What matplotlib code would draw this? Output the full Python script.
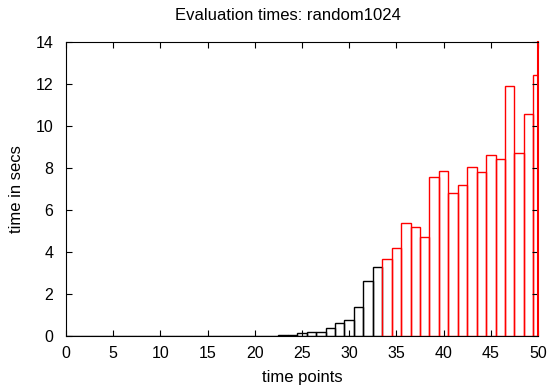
import numpy as np
import matplotlib.pyplot as plt

plt.rcParams['font.family'] = ['Liberation Sans', 'DejaVu Sans']

# time points and evaluation times (secs)
black_points = list(range(0, 34))
black_times = [0.0] * 22 + [0.02, 0.03, 0.06, 0.12, 0.20, 0.21, 0.40, 0.62,
                            0.75, 1.38, 2.60, 3.27]
red_points = list(range(34, 51))
red_times = [3.67, 4.17, 5.40, 5.21, 4.70, 7.56, 7.87, 6.79, 7.21, 8.03,
             7.83, 8.62, 8.43, 11.92, 8.70, 10.56, 12.41]

fig = plt.figure(figsize=(5.48, 3.91), dpi=100)
ax = fig.add_axes([0.1204, 0.1407, 0.8614, 0.7519])

ax.bar(black_points, black_times, width=1.0, facecolor='none',
       edgecolor='black', linewidth=1.0)
ax.bar(red_points, red_times, width=1.0, facecolor='none',
       edgecolor='red', linewidth=1.0)

ax.set_xlim(0, 50)
ax.set_ylim(0, 14)
ax.set_xticks(np.arange(0, 51, 5))
ax.set_yticks(np.arange(0, 15, 2))
ax.tick_params(direction='in', top=True, right=True, labelsize=11.5,
               length=4, width=0.8)
ax.tick_params(axis='x', pad=7)
ax.tick_params(axis='y', pad=9)
ax.spines['right'].set_color('red')
ax.spines['right'].set_linewidth(1.5)

fig.text(288 / 548, 1 - 15 / 391, 'Evaluation times: random1024',
         fontsize=12, ha='center', va='center')
ax.set_xlabel('time points', fontsize=12)
ax.xaxis.set_label_coords(0.5, -0.116)
ax.set_ylabel('time in secs', fontsize=12)
ax.yaxis.set_label_coords(-0.089, 0.5)

fig.savefig('out.png', dpi=100)
